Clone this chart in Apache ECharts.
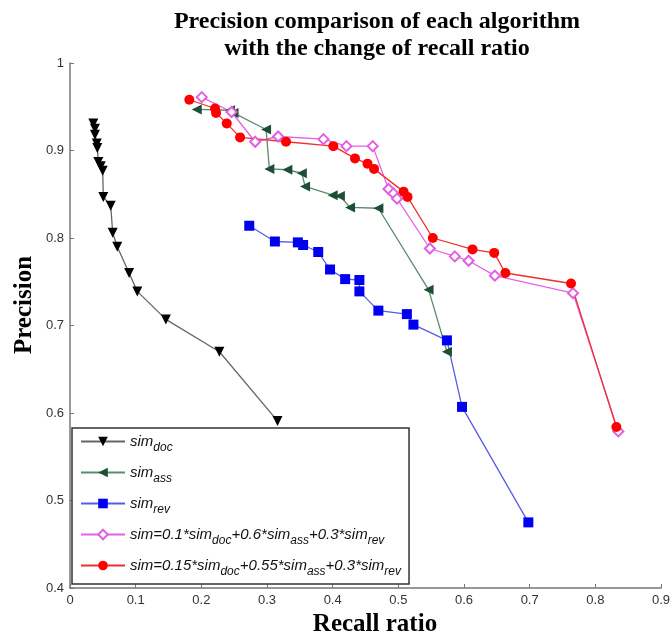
<!DOCTYPE html>
<html>
<head>
<meta charset="utf-8">
<script src="https://cdn.jsdelivr.net/npm/echarts@6/dist/echarts.min.js"></script>
<style>
  html, body { margin: 0; padding: 0; background: #fff; }
  #chart { width: 672px; height: 639px; }
</style>
</head>
<body>
<div id="chart"></div>
<script>
// values (recall ratio, precision)
const recallDoc = [0.0355, 0.038, 0.038, 0.0407, 0.0416, 0.0431, 0.0468, 0.0498, 0.0507, 0.062, 0.065, 0.072, 0.090, 0.1025, 0.146, 0.2275, 0.316]
const precisionDoc = [0.931, 0.925, 0.918, 0.908, 0.903, 0.887, 0.882, 0.877, 0.847, 0.837, 0.806, 0.790, 0.760, 0.739, 0.707, 0.670, 0.591]

const recallAss = [0.193, 0.2437, 0.249, 0.2986, 0.3036, 0.331, 0.353, 0.358, 0.400, 0.411, 0.4265, 0.4696, 0.546, 0.574]
const precisionAss = [0.947, 0.946, 0.943, 0.924, 0.879, 0.878, 0.874, 0.859, 0.849, 0.848, 0.835, 0.834, 0.741, 0.670]

const recallRev = [0.273, 0.312, 0.347, 0.355, 0.378, 0.396, 0.419, 0.4407, 0.4407, 0.4696, 0.513, 0.523, 0.574, 0.597, 0.698]
const precisionRev = [0.814, 0.796, 0.795, 0.792, 0.784, 0.764, 0.753, 0.752, 0.739, 0.717, 0.713, 0.701, 0.683, 0.607, 0.475]

const recallMixA = [0.2006, 0.246, 0.282, 0.317, 0.386, 0.421, 0.461, 0.485, 0.4925, 0.498, 0.548, 0.586, 0.607, 0.647, 0.766, 0.835]
const precisionMixA = [0.961, 0.944, 0.910, 0.916, 0.913, 0.905, 0.905, 0.856, 0.851, 0.845, 0.788, 0.779, 0.774, 0.757, 0.737, 0.579]

const recallMixB = [0.1817, 0.2209, 0.2224, 0.2387, 0.259, 0.329, 0.401, 0.434, 0.453, 0.463, 0.508, 0.514, 0.5525, 0.613, 0.646, 0.663, 0.763, 0.832]
const precisionMixB = [0.958, 0.948, 0.943, 0.931, 0.915, 0.910, 0.905, 0.891, 0.885, 0.879, 0.853, 0.847, 0.800, 0.787, 0.783, 0.760, 0.748, 0.584]

const xTicks = ['0', '0.1', '0.2', '0.3', '0.4', '0.5', '0.6', '0.7', '0.8', '0.9']
const yTicks = ['0.4', '0.5', '0.6', '0.7', '0.8', '0.9', '1']

const legendText = {
  doc: '{m|sim}{s|doc}',
  ass: '{m|sim}{s|ass}',
  rev: '{m|sim}{s|rev}',
  mixA: '{m|sim=0.1*sim}{s|doc}{m|+0.6*sim}{s|ass}{m|+0.3*sim}{s|rev}',
  mixB: '{m|sim=0.15*sim}{s|doc}{m|+0.55*sim}{s|ass}{m|+0.3*sim}{s|rev}',
}

const zip = (xs, ys) => xs.map((x, i) => [x, ys[i]])

function lineSeries(name, xs, ys, lineColor, markColor, symbol, size, extra) {
  return Object.assign({
    name,
    type: 'line',
    data: zip(xs, ys),
    symbol,
    symbolSize: size,
    lineStyle: { color: lineColor, width: 1.3 },
    itemStyle: { color: markColor },
    emphasis: { disabled: true },
  }, extra || {})
}

const serifBold = { fontFamily: 'Liberation Serif', fontWeight: 'bold', fontSize: 25, fill: '#000', align: 'center', verticalAlign: 'middle' }

const chart = echarts.init(document.getElementById('chart'))

chart.setOption({
  animation: false,
  title: {
    text: 'Precision comparison of each algorithm\nwith the change of recall ratio',
    left: 372,
    top: 3,
    textAlign: 'center',
    textStyle: {
      fontFamily: 'Liberation Serif',
      fontWeight: 'bold',
      fontSize: 24,
      lineHeight: 27,
      color: '#000',
    },
  },
  grid: { left: 70, right: 11, top: 63, bottom: 51, outerBoundsMode: 'none' },
  legend: {
    orient: 'vertical',
    left: 72,
    top: 428,
    padding: [6, 8, 6, 8],
    itemGap: 11,
    itemWidth: 44,
    itemHeight: 12,
    backgroundColor: '#fff',
    borderColor: '#333',
    borderWidth: 1.5,
    borderRadius: 0,
    data: ['doc', 'ass', 'rev', 'mixA', 'mixB'],
    formatter: (name) => legendText[name],
    textStyle: {
      rich: {
        m: { fontFamily: 'Liberation Sans', fontStyle: 'italic', fontSize: 15, color: '#111' },
        s: { fontFamily: 'Liberation Sans', fontStyle: 'italic', fontSize: 12, color: '#111', padding: [13, 0, 0, 0] },
      },
    },
  },
  xAxis: {
    type: 'value',
    min: 0,
    max: 0.9,
    interval: 0.1,
    axisLine: { lineStyle: { color: '#777', width: 1.5 } },
    axisTick: { inside: true, length: 4, lineStyle: { color: '#777' } },
    axisLabel: {
      formatter: (v) => xTicks[Math.round(v * 10)],
      fontFamily: 'Liberation Sans',
      fontSize: 13,
      color: '#333',
      margin: 6,
    },
    splitLine: { show: false },
  },
  yAxis: {
    type: 'value',
    min: 0.4,
    max: 1,
    interval: 0.1,
    axisLine: { show: true, lineStyle: { color: '#777', width: 1.5 } },
    axisTick: { show: true, inside: true, length: 4, lineStyle: { color: '#777' } },
    axisLabel: {
      formatter: (v) => yTicks[Math.round(v * 10) - 4],
      fontFamily: 'Liberation Sans',
      fontSize: 13,
      color: '#333',
      margin: 6,
    },
    splitLine: { show: false },
  },
  graphic: [
    { type: 'text', x: 25, y: 305, rotation: Math.PI / 2, style: Object.assign({ text: 'Precision' }, serifBold) },
    { type: 'text', x: 375, y: 625, style: Object.assign({ text: 'Recall ratio' }, serifBold) },
  ],
  series: [
    lineSeries('doc', recallDoc, precisionDoc, '#666', '#000', 'triangle', 10, { symbolRotate: 180 }),
    lineSeries('ass', recallAss, precisionAss, '#5b8a6e', '#1d4f36', 'triangle', 10, { symbolRotate: 90 }),
    lineSeries('rev', recallRev, precisionRev, '#5a5ae8', '#0000f0', 'rect', 10),
    lineSeries('mixA', recallMixA, precisionMixA, '#e860e8', '#e060e0', 'emptyDiamond', 10),
    lineSeries('mixB', recallMixB, precisionMixB, '#ee3030', '#ff0000', 'circle', 10),
  ],
})
</script>
</body>
</html>
